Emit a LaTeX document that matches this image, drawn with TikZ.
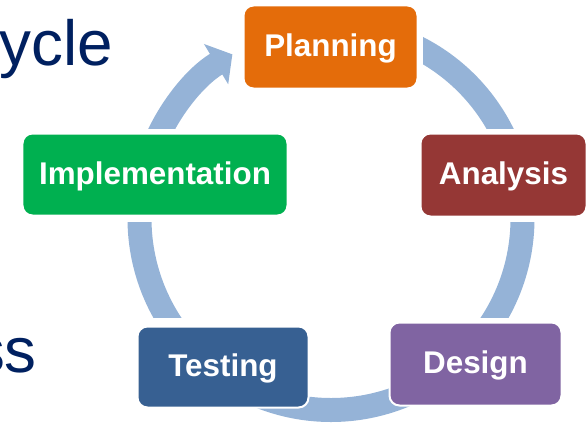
\documentclass[tikz,border=0pt]{standalone}
\usepackage{fontspec}
\setmainfont{Liberation Sans}
\usetikzlibrary{arrows.meta,calc}
\definecolor{plancol}{HTML}{E46C0A}
\definecolor{analcol}{HTML}{953735}
\definecolor{implcol}{HTML}{00B050}
\definecolor{testcol}{HTML}{376092}
\definecolor{descol}{HTML}{8064A2}
\definecolor{bandcol}{HTML}{95B3D7}
\definecolor{navy}{HTML}{002060}

\begin{document}
\begin{tikzpicture}[x=1bp, y=1bp,
    box/.style={rectangle, rounded corners=10bp, draw=white, line width=2bp,
      text=white, inner sep=0pt, minimum height=83bp,
      text height=22bp, text depth=3bp,
      font=\bfseries\fontsize{31.5}{31.5}\selectfont},
    band/.style={draw=bandcol, line width=24bp}]
  \useasboundingbox (0,0) rectangle (588,423);
  \coordinate (ctr) at (331,204.5);

  % title fragments
  \begin{scope}[every node/.style={anchor=base east, inner sep=0pt,
      text=navy, font=\fontsize{64}{64}\selectfont}]
    \node (cycle) at (113,358) {ycle};
    \node (process) at (37,51) {ss};
  \end{scope}

  % the ring
  \begin{scope}
    \clip (0,295) rectangle (588,423);
    \draw [band, -{Triangle[width=46bp, length=19bp]}]
      ($(ctr)+(160:191.5bp)$) arc [start angle=160, end angle=121, radius=191.5bp];
    \begin{scope}
      \clip (423,295) rectangle (588,423);
      \draw [band] ($(ctr)+(65:191.5bp)$) arc [start angle=65, end angle=20, radius=191.5bp];
    \end{scope}
  \end{scope}
  \begin{scope}
    \clip (0,105.5) rectangle (588,201);
    \draw [band] ($(ctr)+(10:191.5bp)$) arc [start angle=10, end angle=-40, radius=191.5bp];
    \draw [band] ($(ctr)+(220:191.5bp)$) arc [start angle=220, end angle=170, radius=191.5bp];
  \end{scope}
  \draw [band] ($(ctr)+(-45:191.5bp)$) arc [start angle=-45, end angle=-135, radius=191.5bp];

  % steps
  \begin{scope}[every node/.style=box]
    \node [fill=plancol, minimum width=174bp] (planning) at (330.5,376) {Planning};
    \node [fill=analcol, minimum width=166bp] (analysis) at (503.5,248) {Analysis};
    \node [fill=descol, minimum width=172bp] (design) at (475.5,59) {Design};
    \node [fill=testcol, minimum width=171bp, minimum height=81bp] (testing) at (223,56) {Testing};
    \node [fill=implcol, minimum width=265bp, minimum height=82bp] (impl) at (155,248.5) {Implementation};
  \end{scope}
\end{tikzpicture}
\end{document}
